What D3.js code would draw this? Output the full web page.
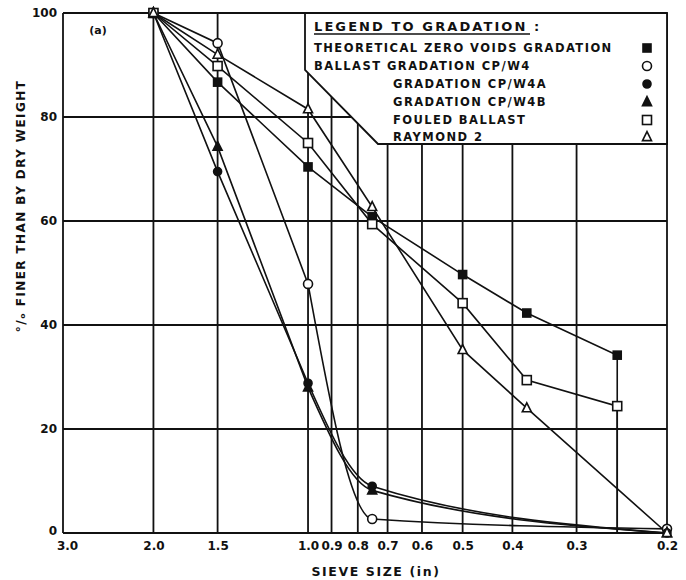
<!DOCTYPE html>
<html>
<head>
  <meta charset="utf-8">
  <title>Gradation curves</title>
  <style>
  body { margin: 0; background: #fff; }
  text { font-family: "DejaVu Sans", sans-serif; font-weight: bold; fill: #111; }
  </style>
</head>
<body>
  <div id="viz"></div>
  <script src="https://d3js.org/d3.v7.min.js"></script>
  <script>
    // data (sieve size in inches, % finer)
    const theoretical = [[2.0, 100], [1.5, 86.7], [1.0, 70.4], [0.75, 60.8], [0.5, 49.7], [0.375, 42.3], [0.25, 34.2]];
    const cpw4  = [[2.0, 100], [1.5, 94.2], [1.0, 47.9], [0.75, 2.7], [0.2, 0.8]];
    const cpw4a = [[2.0, 100], [1.5, 69.5], [1.0, 28.8], [0.75, 9.0], [0.2, 0]];
    const cpw4b = [[2.0, 100], [1.5, 74.3], [1.0, 28.0], [0.75, 8.2], [0.2, 0]];
    const fouled  = [[2.0, 100], [1.5, 89.8], [1.0, 75.0], [0.75, 59.4], [0.5, 44.2], [0.375, 29.4], [0.25, 24.4]];
    const raymond = [[2.0, 100], [1.5, 92.0], [1.0, 81.5], [0.75, 62.7], [0.5, 35.2], [0.375, 24.0], [0.2, 0]];

    const seriesNames = ["THEORETICAL ZERO VOIDS GRADATION", "BALLAST GRADATION CP/W4", "GRADATION CP/W4A",
                         "GRADATION CP/W4B", "FOULED BALLAST", "RAYMOND 2"];
    const seriesData = [theoretical, cpw4, cpw4a, cpw4b, fouled, raymond];
    const seriesMarks = ["fsquare", "ocircle", "fcircle", "ftriangle", "osquare", "otriangle"];
    // unmarked end point where a curve drops straight down to the axis
    const seriesDrop = [[0.25, 0], null, null, null, [0.25, 0], null];
    // index from which the line is drawn as a smooth curve (null = straight)
    const seriesCurveFrom = [null, 2, 2, 2, null, null];

    const xTicks = [3.0, 2.0, 1.5, 1.0, 0.9, 0.8, 0.7, 0.6, 0.5, 0.4, 0.3, 0.2];
    const yTicks = [0, 20, 40, 60, 80, 100];

    const svgWidth = 686, svgHeight = 580;
    const margin = {top: 13, right: 19, bottom: 47, left: 63};

    let svg = d3.select("#viz").append("svg")
      .attr("width", svgWidth)
      .attr("height", svgHeight);

    let x = d3.scaleLog().domain([3.0, 0.2]).range([margin.left, svgWidth - margin.right]);
    let y = d3.scaleLinear().domain([0, 100]).range([svgHeight - margin.bottom, margin.top]);

    // grid
    let grid = svg.append("g").attr("stroke", "#111").attr("stroke-width", 1.8);
    xTicks.forEach(t => {
      grid.append("line")
        .attr("x1", x(t)).attr("x2", x(t))
        .attr("y1", y(0)).attr("y2", y(100));
    });
    yTicks.forEach(t => {
      grid.append("line")
        .attr("x1", x(3.0)).attr("x2", x(0.2))
        .attr("y1", y(t)).attr("y2", y(t));
    });

    // axes (labels only, lines come from grid)
    let xAxis = d3.axisBottom(x).tickValues(xTicks).tickFormat(d3.format(".1f")).tickSize(0).tickPadding(8);
    let gX = svg.append("g").attr("transform", `translate(0,${y(0)})`).call(xAxis);
    gX.select(".domain").remove();
    gX.selectAll("text").style("font-size", "12px").attr("fill", "#111");
    gX.selectAll(".tick").filter(d => d === 3.0).select("text").attr("dx", 4);

    let yAxis = d3.axisLeft(y).tickValues(yTicks).tickSize(0).tickPadding(6);
    let gY = svg.append("g").attr("transform", `translate(${x(3.0)},0)`).call(yAxis);
    gY.select(".domain").remove();
    gY.selectAll("text").style("font-size", "12px").attr("fill", "#111");
    gY.selectAll(".tick").filter(d => d === 0).select("text").attr("dy", "0.1em");

    svg.append("text")
      .attr("x", 376).attr("y", 576)
      .attr("text-anchor", "middle")
      .style("font-size", "12.5px")
      .style("letter-spacing", "1.6px")
      .text("SIEVE  SIZE  (in)");

    svg.append("text")
      .attr("transform", "translate(25,206) rotate(-90)")
      .attr("text-anchor", "middle")
      .style("font-size", "12px")
      .style("letter-spacing", "1.4px")
      .text("°/\u2092 FINER  THAN  BY  DRY  WEIGHT");

    svg.append("text")
      .attr("x", 98).attr("y", 34)
      .attr("text-anchor", "middle")
      .style("font-size", "11px")
      .text("(a)");

    // series lines
    let lines = svg.append("g")
      .attr("fill", "none")
      .attr("stroke", "#111")
      .attr("stroke-width", 1.6);
    let straight = d3.line().x(d => x(d[0])).y(d => y(d[1]));
    let smooth = d3.line().x(d => x(d[0])).y(d => y(d[1])).curve(d3.curveMonotoneX);
    seriesData.forEach((s, i) => {
      let pts = seriesDrop[i] ? s.concat([seriesDrop[i]]) : s;
      let k = seriesCurveFrom[i];
      if (k === null) {
        lines.append("path").attr("d", straight(pts));
      } else {
        lines.append("path").attr("d", straight(pts.slice(0, k + 1)));
        lines.append("path").attr("d", smooth(pts.slice(k)));
      }
    });

    function drawMark(g, kind, cx, cy) {
      let filled = kind[0] === "f";
      let shape = kind.slice(1);
      let el;
      if (shape === "square") {
        let s = filled ? 8 : 9;
        el = g.append("rect").attr("x", cx - s / 2).attr("y", cy - s / 2).attr("width", s).attr("height", s);
      } else if (shape === "circle") {
        el = g.append("circle").attr("cx", cx).attr("cy", cy).attr("r", filled ? 4 : 4.5);
      } else {
        let h = 9;
        el = g.append("path").attr("d", `M${cx},${cy - h * 0.6}L${cx + h / 2},${cy + h * 0.4}L${cx - h / 2},${cy + h * 0.4}Z`);
      }
      el.attr("fill", filled ? "#111" : "#fff").attr("stroke", "#111").attr("stroke-width", 1.6);
    }

    let marks = svg.append("g");
    seriesData.forEach((s, i) => {
      s.forEach(d => drawMark(marks, seriesMarks[i], x(d[0]), y(d[1])));
    });

    // legend panel (covers the grid in the top right corner)
    let lg = svg.append("g");
    let L = 305, R = x(0.2), T = y(100);
    lg.append("path")
      .attr("d", `M${L},${T}V70L378,144H${R}V${T}Z`)
      .attr("fill", "#fff")
      .attr("stroke", "#111")
      .attr("stroke-width", 1.8);

    lg.append("text")
      .attr("x", 314).attr("y", 31)
      .style("font-size", "13px")
      .style("letter-spacing", "2.1px")
      .text("LEGEND  TO  GRADATION :");
    lg.append("line")
      .attr("x1", 314).attr("x2", 530)
      .attr("y1", 34).attr("y2", 34)
      .attr("stroke", "#111").attr("stroke-width", 1.5);

    const legendRows = [48, 66, 84, 102, 120, 137];
    seriesNames.forEach((name, i) => {
      let tx = i < 2 ? 314 : 393;
      lg.append("text")
        .attr("x", tx).attr("y", legendRows[i] + 4)
        .style("font-size", "11.5px")
        .style("letter-spacing", "1.45px")
        .text(name);
      drawMark(lg, seriesMarks[i], 647, legendRows[i]);
    });
  </script>
</body>
</html>
